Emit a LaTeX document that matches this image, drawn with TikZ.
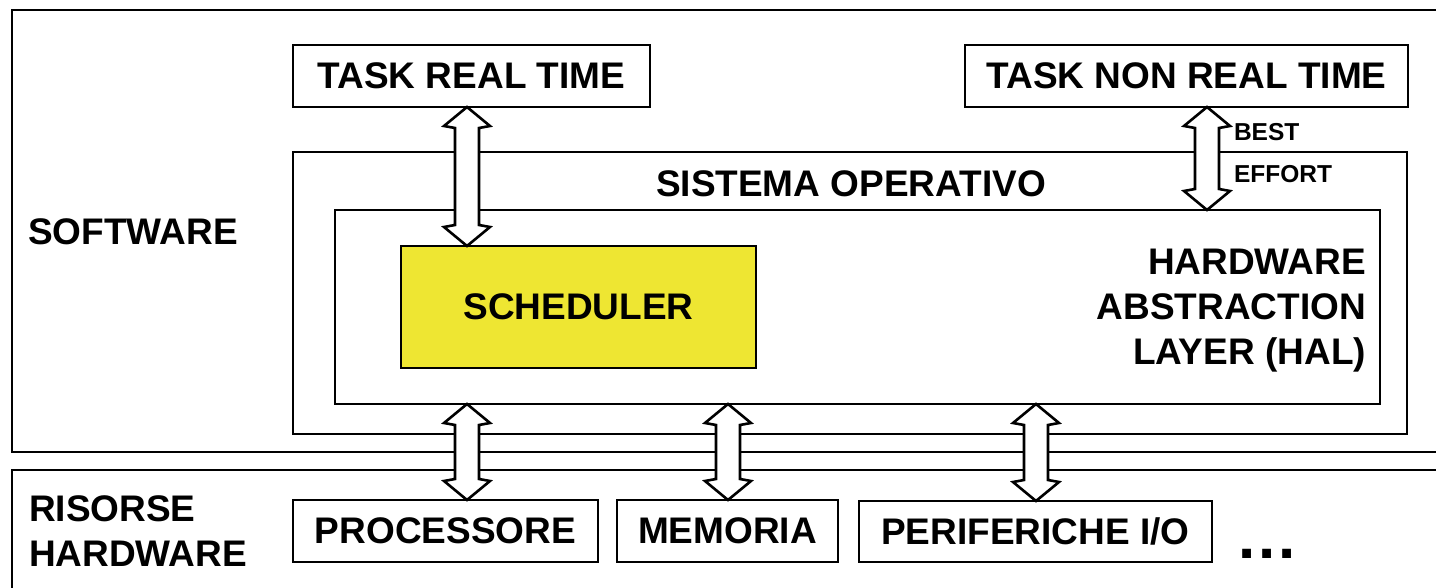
\documentclass[tikz,border=0pt]{standalone}
\usepackage{fontspec}
\setmainfont{Liberation Sans}
\usetikzlibrary{calc}
\definecolor{schedyellow}{RGB}{238,230,50}
\begin{document}
\begin{tikzpicture}[x=1pt,y=-1pt,
  every node/.style={inner sep=0pt, outer sep=0pt},
  lbl/.style={font=\bfseries\fontsize{37}{45}\selectfont},
  small/.style={font=\bfseries\fontsize{24.5}{41.5}\selectfont},
  frame/.style={draw=black, line width=2.7pt},
  box/.style={frame, fill=white, anchor=north west, lbl},
  dblarrow/.style={draw=black, fill=white, line width=2.6pt, line join=miter,
    to path={let \p1=(\tikztostart), \p2=(\tikztotarget) in
      (\x1,\y1) -- (\x1+23pt,\y1-19pt) -- (\x1+12pt,\y1-21pt)
      -- (\x1+12pt,\y2+21pt) -- (\x1+23pt,\y2+19pt) -- (\x1,\y2)
      -- (\x1-23pt,\y2+19pt) -- (\x1-12pt,\y2+21pt)
      -- (\x1-12pt,\y1-21pt) -- (\x1-23pt,\y1-19pt) -- cycle}}]

\useasboundingbox (0,0) rectangle (1436,588);
\clip (0,0) rectangle (1436,588);

% software and hardware layers
\draw[frame] (1445,10) -- (12,10) -- (12,452) -- (1445,452);
\draw[frame] (1445,470) -- (12,470) -- (12,600);

\node[lbl, anchor=west] (sw) at (28,232) {SOFTWARE};
\node[lbl, anchor=west, align=left] (hw) at (29,531.5) {RISORSE\\HARDWARE};

% tasks
\node[box, minimum width=357, minimum height=62] (trt) at (293,45) {TASK REAL TIME};
\node[box, minimum width=443, minimum height=62] (tnrt) at (965,45) {TASK NON REAL TIME};

% operating system, HAL and scheduler
\node[frame, anchor=north west, minimum width=1114, minimum height=282] (os) at (293,152) {};
\node[lbl] (ostxt) at (851,184) {SISTEMA OPERATIVO};
\node[frame, anchor=north west, minimum width=1045, minimum height=194] (hal) at (335,210) {};
\node[lbl, anchor=east, align=right] (haltxt) at (1366,311) {HARDWARE\\ABSTRACTION\\LAYER (HAL)};
\node[box, fill=schedyellow, minimum width=355, minimum height=122] (sched) at (401,246) {SCHEDULER};

% hardware resources
\node[box, minimum width=305, minimum height=62] (proc) at (293,500) {PROCESSORE};
\node[box, minimum width=221, minimum height=62] (mem) at (617,500) {MEMORIA};
\node[box, minimum width=353, minimum height=61] (peri) at (859,501) {PERIFERICHE I/O};
\node[font=\bfseries\fontsize{62}{70}\selectfont, anchor=base west] (more) at (1238,558) {.\kern3pt.\kern3pt.};

% arrow columns
\coordinate (ax1) at (467,0);
\coordinate (ax2) at (728,0);
\coordinate (ax3) at (1036,0);
\coordinate (ax4) at (1207,0);

\draw[dblarrow] (trt.south -| ax1) to (sched.north -| ax1);
\draw[dblarrow] (tnrt.south -| ax4) to (hal.north -| ax4);
\node[small, anchor=west, align=left] (be) at (1234,153) {BEST\\EFFORT};

\draw[dblarrow] (hal.south -| ax1) to (proc.north -| ax1);
\draw[dblarrow] (hal.south -| ax2) to (mem.north -| ax2);
\draw[dblarrow] (hal.south -| ax3) to (peri.north -| ax3);
\end{tikzpicture}
\end{document}
